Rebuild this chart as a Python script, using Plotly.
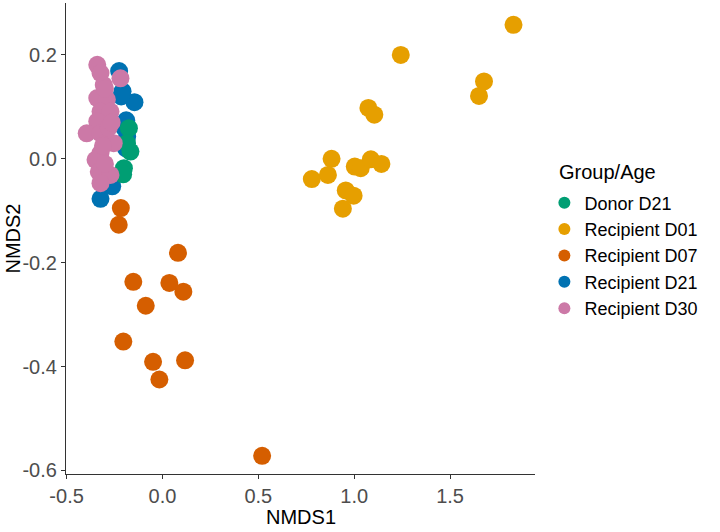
import plotly.graph_objects as go

groups = ["Donor D21", "Recipient D01", "Recipient D07", "Recipient D21", "Recipient D30"]
colors = ["#009E73", "#E69F00", "#D55E00", "#0072B2", "#CC79A7"]

donor_d21_x = [-0.175, -0.167, -0.201, -0.185, -0.205]
donor_d21_y = [0.059, 0.014, -0.018, 0.030, -0.030]

rec_d01_x = [1.831, 1.243, 1.677, 1.651, 1.074, 1.105, 0.882, 0.779, 0.863, 1.003, 1.034, 1.087, 1.142, 0.956, 0.997, 0.941]
rec_d01_y = [0.258, 0.200, 0.149, 0.121, 0.098, 0.085, 0.000, -0.039, -0.031, -0.015, -0.018, -0.001, -0.010, -0.061, -0.071, -0.096]

rec_d07_x = [-0.217, -0.228, 0.081, -0.152, 0.036, 0.109, -0.087, -0.204, -0.049, 0.118, -0.016, 0.520]
rec_d07_y = [-0.095, -0.127, -0.181, -0.237, -0.239, -0.256, -0.283, -0.352, -0.391, -0.388, -0.425, -0.572]

rec_d21_x = [-0.226, -0.208, -0.146, -0.189, -0.184, -0.200, -0.291, -0.273, -0.323, -0.262, -0.215, -0.190]
rec_d21_y = [0.169, 0.130, 0.109, 0.074, 0.043, 0.060, -0.031, -0.051, -0.077, -0.053, 0.120, 0.020]

rec_d30_x = [-0.340, -0.323, -0.219, -0.306, -0.340, -0.290, -0.323, -0.271, -0.340, -0.395, -0.323,
             -0.254, -0.323, -0.349, -0.332, -0.271, -0.323, -0.300, -0.280, -0.310, -0.265, -0.300]
rec_d30_y = [0.181, 0.165, 0.155, 0.142, 0.117, 0.114, 0.091, 0.091, 0.072, 0.049, 0.049,
             0.030, 0.011, -0.002, -0.025, -0.031, -0.047, 0.135, 0.060, 0.025, 0.070, -0.010]

x_title = "NMDS1"
y_title = "NMDS2"
legend_title = "Group/Age"

series = [
    (rec_d01_x, rec_d01_y, 1),
    (rec_d07_x, rec_d07_y, 2),
    (rec_d21_x, rec_d21_y, 3),
    (donor_d21_x, donor_d21_y, 0),
    (rec_d30_x, rec_d30_y, 4),
]

FONT = "Liberation Sans, Arial, sans-serif"

fig = go.Figure()
for xs, ys, gi in series:
    fig.add_trace(go.Scatter(
        x=xs, y=ys, mode="markers", name=groups[gi], legendrank=gi + 1,
        marker=dict(color=colors[gi], size=18, line=dict(width=0)),
    ))

axis_common = dict(
    showline=True, linecolor="#333333", linewidth=1.2, ticks="outside", ticklen=4,
    tickcolor="#333333", showgrid=False, zeroline=False, mirror=False, automargin=False,
    tickfont=dict(family=FONT, size=20, color="#4D4D4D"),
)

fig.update_layout(
    width=720, height=532,
    margin=dict(l=66, r=185, t=3, b=58, autoexpand=False),
    paper_bgcolor="white", plot_bgcolor="white",
    xaxis=dict(range=[-0.503, 1.943], tickvals=[-0.5, 0.0, 0.5, 1.0, 1.5],
               ticktext=["-0.5", "0.0", "0.5", "1.0", "1.5"], **axis_common),
    yaxis=dict(range=[-0.607, 0.300], tickvals=[-0.6, -0.4, -0.2, 0.0, 0.2],
               ticktext=["-0.6", "-0.4", "-0.2", "0.0", "0.2"], **axis_common),
    legend=dict(
        font=dict(family=FONT, size=18, color="black"),
        x=1.02, xanchor="left", y=0.464, yanchor="middle", itemsizing="constant",
        tracegroupgap=0, bgcolor="rgba(0,0,0,0)", itemwidth=30,
    ),
    annotations=[
        dict(text=x_title, xref="paper", yref="paper", x=0.5, y=-0.0913, xanchor="center", yanchor="middle",
             showarrow=False, font=dict(family=FONT, size=20, color="black")),
        dict(text=y_title, xref="paper", yref="paper", x=-0.115, y=0.5, xanchor="center", yanchor="middle",
             textangle=-90, showarrow=False, font=dict(family=FONT, size=20, color="black")),
        dict(text=legend_title, xref="paper", yref="paper", x=1.047, y=(474 - 172) / 471,
             xanchor="left", yanchor="middle", showarrow=False,
             font=dict(family=FONT, size=20, color="black")),
    ],
    showlegend=True,
)

fig.write_html("out.html", config={"displayModeBar": False},
               post_script="document.body.style.margin='0';document.body.style.overflow='hidden';")
